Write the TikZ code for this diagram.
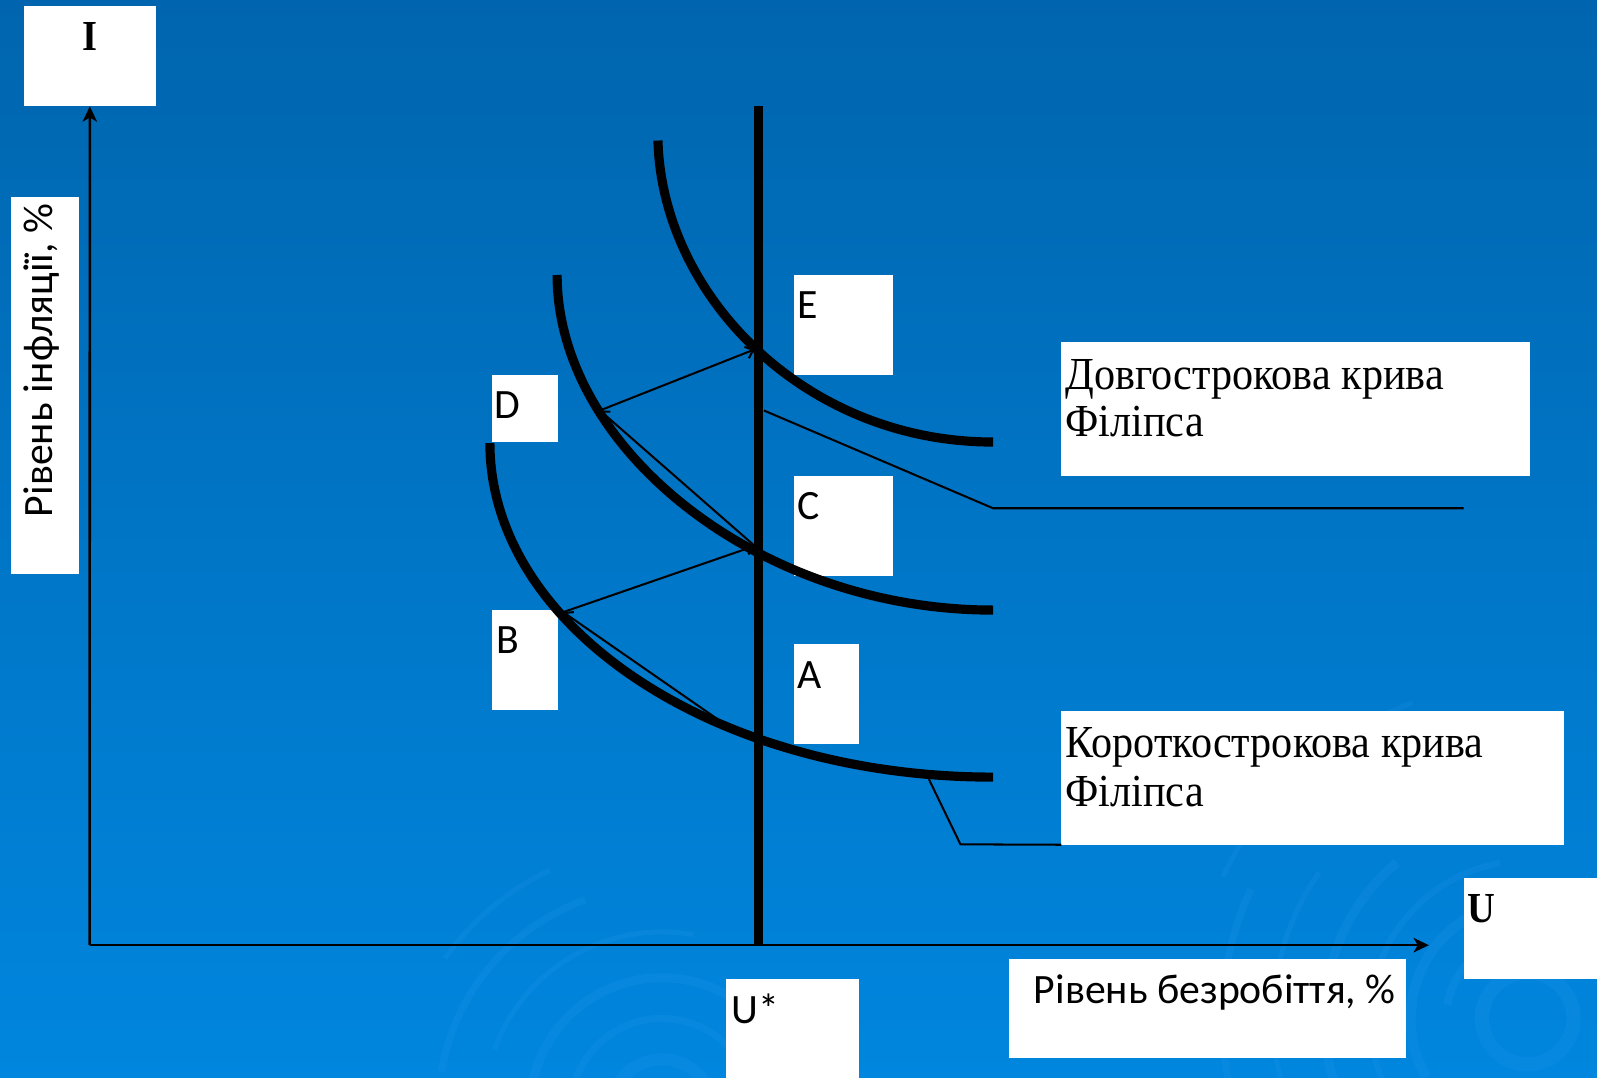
\documentclass[tikz,border=0pt]{standalone}
\usepackage{fontspec}
\setmainfont{Liberation Serif}
\newfontfamily\calib{Carlito}
\newfontfamily\narrowserif[FakeStretch=0.92]{Liberation Serif}
\newfontfamily\narrowbold[FakeStretch=0.9]{Liberation Serif Bold}
\usetikzlibrary{arrows.meta,calc}
\definecolor{bgtop}{RGB}{0,101,174}
\definecolor{bgmid}{RGB}{0,109,186}
\definecolor{bgbot}{RGB}{0,134,222}
\definecolor{swirlc}{RGB}{40,155,240}
\begin{document}
\begin{tikzpicture}[x=1pt,y=-1pt,
  box/.style={fill=white, draw=none, inner sep=0pt, anchor=north west},
  ltr/.style={font=\calib\fontsize{41}{49}\selectfont, inner sep=0pt, anchor=base west, text=black},
  serifl/.style={font=\narrowserif\fontsize{45}{47}\selectfont, inner sep=0pt, anchor=base west, text=black},
  boldl/.style={font=\narrowbold\fontsize{42}{48}\selectfont, inner sep=0pt, text=black},
  curve/.style={line width=9pt, black},
  axis/.style={line width=2.5pt, black, -{Stealth[length=15pt,width=14pt,inset=4pt]}},
  move/.style={line width=2pt, black, -{Straight Barb[length=7pt,width=12pt]}},
  leader/.style={line width=2pt, black},
  swirl/.style={swirlc, opacity=.18}
]
\useasboundingbox (0,0) rectangle (1568,1058);
\shade[top color=bgtop, middle color=bgmid, bottom color=bgbot] (0,0) rectangle (1568,1058);

% background swirls
\begin{scope}
\clip (0,0) rectangle (1568,1058);
\foreach \r/\a/\b/\w in {45/0/360/14, 80/190/330/8, 115/150/290/10, 155/130/260/6, 200/120/230/9, 250/150/215/5, 300/165/205/7, 330/205/250/5}
  \draw[swirl, line width=\w pt] ($(1500,1000)+(\a:\r)$) arc[start angle=\a, end angle=\b, radius=\r];
\foreach \r/\a/\b/\w in {50/190/350/12, 90/200/320/7, 130/185/300/9, 175/200/280/5, 220/190/250/7, 260/215/245/5}
  \draw[swirl, line width=\w pt] ($(650,1090)+(\a:\r)$) arc[start angle=\a, end angle=\b, radius=\r];
\end{scope}

% white label boxes
\node[box, minimum width=130pt, minimum height=98pt] (Ibox) at (23,6) {};
\node[box, minimum width=66pt, minimum height=370pt] (Ylbox) at (11,193) {};
\node[box, minimum width=98pt, minimum height=98pt] (Ebox) at (779,270) {};
\node[box, minimum width=65pt, minimum height=66pt] (Dbox) at (483,368) {};
\node[box, minimum width=98pt, minimum height=98pt] (Cbox) at (779,467) {};
\node[box, minimum width=65pt, minimum height=98pt] (Bbox) at (483,599) {};
\node[box, minimum width=64pt, minimum height=98pt] (Abox) at (779,632) {};
\node[box, minimum width=130pt, minimum height=97pt] (Usbox) at (713,961) {};
\node[box, minimum width=390pt, minimum height=98pt] (Xlbox) at (990,941) {};
\node[box, minimum width=131pt, minimum height=99pt] (Ubox) at (1437,862) {};
\node[box, minimum width=460pt, minimum height=131pt] (LRbox) at (1042,336) {};
\node[box, minimum width=493pt, minimum height=131pt] (SRbox) at (1042,698) {};

% texts
\node[boldl, anchor=base] (Itxt) at (88,50) {I};
\node[font=\calib\fontsize{41}{49}\selectfont, rotate=90, inner sep=0pt, anchor=base] (Yltxt) at (52,354) {Рівень інфляції, \%};
\node[ltr] (Etxt) at (783,313) {E};
\node[ltr] (Dtxt) at (485,411) {D};
\node[ltr] (Ctxt) at (783,510) {C};
\node[ltr] (Btxt) at (487,642) {B};
\node[ltr] (Atxt) at (783,676) {A};
\node[ltr] (Ustxt) at (718,1005) {U*};
\node[ltr] (Xltxt) at (1015,985) {Рівень безробіття, \%};
\node[boldl, anchor=base west] (Utxt) at (1441,906) {U};
\node[serifl] (LR1) at (1046,382) {Довгострокова крива};
\node[serifl] (LR2) at (1046,429) {Філіпса};
\node[serifl] (SR1) at (1046,744) {Короткострокова крива};
\node[serifl] (SR2) at (1046,792) {Філіпса};

% axes
\coordinate (O) at (88,928);
\coordinate (Xend) at (1403,928);
\draw[axis] (O) -- (Ibox.south);
\draw[axis] (O) -- (Xend);

% long-run vertical Phillips curve
\coordinate (Vtop) at (745,104);
\coordinate (Vbot) at (745,928);
\draw[curve] (Vtop) -- (Vbot);

% short-run Phillips curves
\draw[curve] (646,138) .. controls (650,290) and (790,434) .. (975,434);
\draw[curve] (547,270) .. controls (547,440) and (745,599) .. (975,599);
\draw[curve] (481,435) .. controls (481,615) and (700,763) .. (975,763);

% movement arrows
\coordinate (pA) at (713,712);
\coordinate (pB) at (553,601);
\coordinate (pC) at (741,536);
\coordinate (pD) at (589,403);
\coordinate (pE) at (741,343);
\draw[move] (pA) -- (pB);
\draw[move] (pB) -- (pC);
\draw[move] (pC) -- (pD);
\draw[move] (pD) -- (pE);

% leader lines
\coordinate (l1a) at (750,403);
\coordinate (l1b) at (975,499);
\coordinate (l1c) at (1437,499);
\draw[leader] (l1a) -- (l1b) -- (l1c);
\coordinate (l2a) at (912,765);
\coordinate (l2b) at (943,829);
\draw[leader] (l2a) -- (l2b) -- (SRbox.south west);
\end{tikzpicture}
\end{document}
